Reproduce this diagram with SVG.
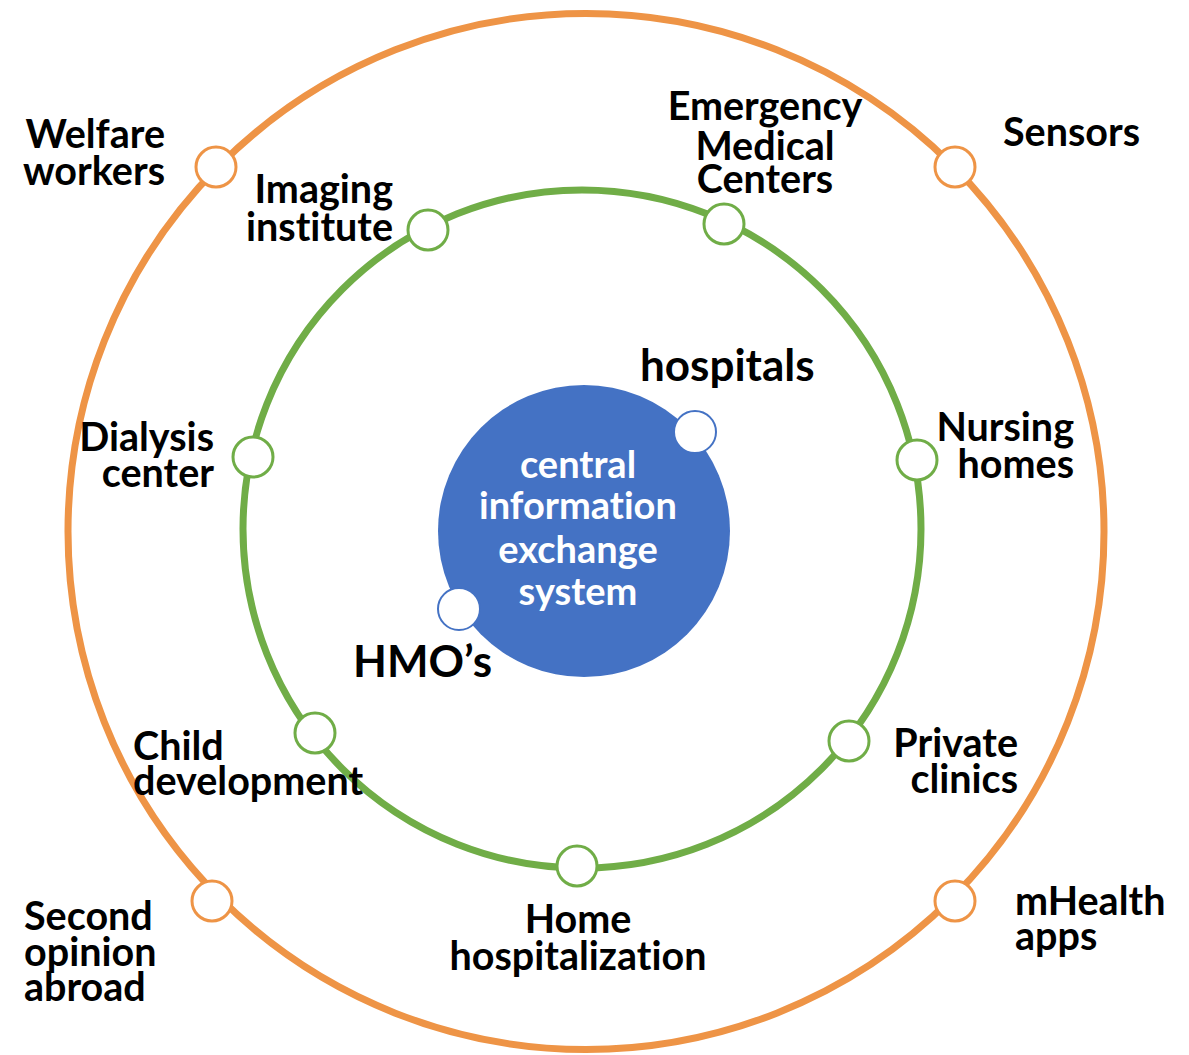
<svg xmlns="http://www.w3.org/2000/svg" width="1189" height="1055" viewBox="0 0 1189 1055">
<style>
text{font-variant-ligatures:none;font-feature-settings:"liga" 0,"clig" 0}
.lbl{font-family:Lato,"Open Sans","Liberation Sans",sans-serif;font-weight:bold;font-size:39.5px;fill:#000}
.big{font-size:44px}
.ctr{font-family:Lato,"Open Sans","Liberation Sans",sans-serif;font-weight:bold;font-size:38px;fill:#fff}
.on{fill:#fff;stroke:#EE9446;stroke-width:3}
.gn{fill:#fff;stroke:#70AD47;stroke-width:3}
.bn{fill:#fff;stroke:#4472C4;stroke-width:2}
</style>
<rect width="1189" height="1055" fill="#fff"/>
<g id="rings">
<circle cx="586" cy="531.5" r="518" fill="none" stroke="#EE9446" stroke-width="7"/>
<circle cx="582" cy="529" r="339" fill="none" stroke="#70AD47" stroke-width="7"/>
</g>
<g id="center">
<circle cx="584" cy="531" r="146" fill="#4472C4"/>
<text class="ctr" text-anchor="middle"><tspan x="578" y="478">central</tspan><tspan x="578" y="519">information</tspan><tspan x="578" y="563">exchange</tspan><tspan x="578" y="605">system</tspan></text>
</g>
<g id="hospitals"><circle class="bn" cx="695" cy="432" r="21"/><text class="lbl big" x="640" y="381">hospitals</text></g>
<g id="hmos"><circle class="bn" cx="459" cy="609" r="21"/><text class="lbl big" x="353" y="677">HMO’s</text></g>
<g id="welfare"><circle class="on" cx="216" cy="167" r="20"/><text class="lbl" text-anchor="end"><tspan x="165" y="148">Welfare</tspan><tspan x="165" y="185">workers</tspan></text></g>
<g id="sensors"><circle class="on" cx="955" cy="167" r="20"/><text class="lbl" x="1003" y="146">Sensors</text></g>
<g id="second"><circle class="on" cx="212" cy="901" r="20"/><text class="lbl"><tspan x="24" y="930">Second</tspan><tspan x="24" y="966">opinion</tspan><tspan x="24" y="1001">abroad</tspan></text></g>
<g id="mhealth"><circle class="on" cx="955" cy="901" r="20"/><text class="lbl"><tspan x="1015" y="915">mHealth</tspan><tspan x="1015" y="950">apps</tspan></text></g>
<g id="imaging"><circle class="gn" cx="428" cy="230" r="20"/><text class="lbl" text-anchor="end"><tspan x="393" y="203">Imaging</tspan><tspan x="393" y="241">institute</tspan></text></g>
<g id="emergency"><circle class="gn" cx="724" cy="224" r="20"/><text class="lbl" text-anchor="middle"><tspan x="765" y="120">Emergency</tspan><tspan x="765" y="160">Medical</tspan><tspan x="765" y="193">Centers</tspan></text></g>
<g id="dialysis"><circle class="gn" cx="253" cy="457" r="20"/><text class="lbl" text-anchor="end"><tspan x="214" y="451">Dialysis</tspan><tspan x="214" y="487">center</tspan></text></g>
<g id="nursing"><circle class="gn" cx="917" cy="460" r="20"/><text class="lbl" text-anchor="end"><tspan x="1074" y="441">Nursing</tspan><tspan x="1074" y="478">homes</tspan></text></g>
<g id="child"><circle class="gn" cx="315" cy="733" r="20"/><text class="lbl"><tspan x="133" y="760">Child</tspan><tspan x="133" y="795">development</tspan></text></g>
<g id="private"><circle class="gn" cx="849" cy="741" r="20"/><text class="lbl" text-anchor="end"><tspan x="1018" y="757">Private</tspan><tspan x="1018" y="793">clinics</tspan></text></g>
<g id="home"><circle class="gn" cx="577" cy="866" r="20"/><text class="lbl" text-anchor="middle"><tspan x="578" y="933">Home</tspan><tspan x="578" y="970">hospitalization</tspan></text></g>
</svg>
